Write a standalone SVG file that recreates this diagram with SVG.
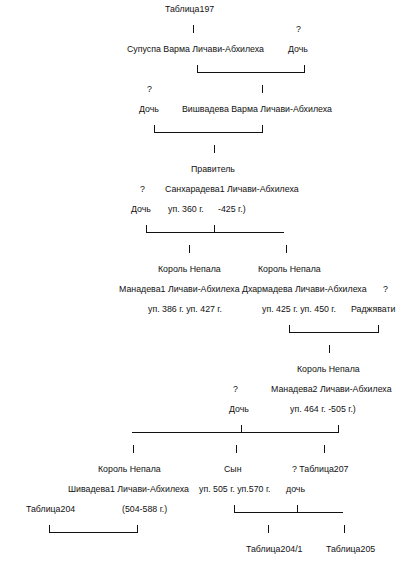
<svg xmlns="http://www.w3.org/2000/svg" width="407" height="581" viewBox="0 0 407 581">
<style>
text{font-family:"Liberation Sans",Arial,sans-serif;font-size:8.8px;fill:#111}
.c line{stroke:#111;stroke-width:1}
</style>
<rect width="407" height="581" fill="#fff"/>
<g class="c" id="connectors">
<line x1="193.5" y1="25" x2="193.5" y2="33"/>
<line x1="197.5" y1="65" x2="197.5" y2="73"/><line x1="197" y1="72.5" x2="304" y2="72.5"/><line x1="304.5" y1="65" x2="304.5" y2="73"/>
<line x1="262.5" y1="85" x2="262.5" y2="93"/>
<line x1="154.5" y1="125" x2="154.5" y2="133"/><line x1="154" y1="132.5" x2="262" y2="132.5"/><line x1="262.5" y1="125" x2="262.5" y2="133"/>
<line x1="214.5" y1="145" x2="214.5" y2="153"/>
<line x1="146.5" y1="225" x2="146.5" y2="233"/><line x1="146" y1="232.5" x2="284" y2="232.5"/><line x1="214.5" y1="225" x2="214.5" y2="233"/>
<line x1="189.5" y1="245" x2="189.5" y2="253"/><line x1="286.5" y1="245" x2="286.5" y2="253"/>
<line x1="289.5" y1="325" x2="289.5" y2="333"/><line x1="289" y1="332.5" x2="378" y2="332.5"/><line x1="378.5" y1="325" x2="378.5" y2="333"/>
<line x1="329.5" y1="345" x2="329.5" y2="353"/>
<line x1="132" y1="432.5" x2="338" y2="432.5"/><line x1="241.5" y1="425" x2="241.5" y2="433"/><line x1="338.5" y1="425" x2="338.5" y2="433"/>
<line x1="133.5" y1="445" x2="133.5" y2="453"/><line x1="236.5" y1="445" x2="236.5" y2="453"/><line x1="324.5" y1="445" x2="324.5" y2="453"/>
<line x1="234.5" y1="505" x2="234.5" y2="513"/><line x1="234" y1="512.5" x2="343" y2="512.5"/><line x1="297.5" y1="505" x2="297.5" y2="513"/>
<line x1="49.5" y1="525" x2="49.5" y2="533"/><line x1="49" y1="532.5" x2="137" y2="532.5"/><line x1="137.5" y1="525" x2="137.5" y2="533"/>
<line x1="268.5" y1="525" x2="268.5" y2="533"/><line x1="344.5" y1="525" x2="344.5" y2="533"/>
</g>
<g id="t197"><text x="165" y="12">Таблица197</text></g>
<g id="supuspa"><text x="127" y="52">Супуспа Варма Личави-Абхилеха</text></g>
<g id="doch1"><text x="296" y="32">?</text><text x="288" y="52">Дочь</text></g>
<g id="doch2"><text x="147" y="92">?</text><text x="139" y="112">Дочь</text></g>
<g id="vishvadeva"><text x="182" y="112">Вишвадева Варма Личави-Абхилеха</text></g>
<g id="sanharadeva"><text x="191" y="172">Правитель</text><text x="165" y="192">Санхарадева1 Личави-Абхилеха</text><text x="168" y="212">уп. 360 г.</text><text x="218" y="212">-425 г.)</text></g>
<g id="doch3"><text x="140" y="192">?</text><text x="131" y="212">Дочь</text></g>
<g id="manadeva1"><text x="158" y="272">Король Непала</text><text x="148" y="312">уп. 386 г. уп. 427 г.</text></g>
<g id="dharmadeva"><text x="258" y="272">Король Непала</text><text x="119" y="292">Манадева1 Личави-Абхилеха Дхармадева Личави-Абхилеха</text><text x="262" y="312">уп. 425 г. уп. 450 г.</text></g>
<g id="radzhyavati"><text x="383" y="292">?</text><text x="351" y="312">Раджявати</text></g>
<g id="manadeva2"><text x="297" y="372">Король Непала</text><text x="271" y="392">Манадева2 Личави-Абхилеха</text><text x="290" y="412">уп. 464 г. -505 г.)</text></g>
<g id="doch4"><text x="233" y="392">?</text><text x="229" y="412">Дочь</text></g>
<g id="shivadeva"><text x="98" y="472">Король Непала</text><text x="68" y="492">Шивадева1 Личави-Абхилеха</text><text x="122" y="512">(504-588 г.)</text></g>
<g id="syn"><text x="224" y="472">Сын</text><text x="199" y="492">уп. 505 г. уп.570 г.</text></g>
<g id="doch5"><text x="292" y="472">? Таблица207</text><text x="286" y="492">дочь</text></g>
<g id="t204"><text x="26" y="512">Таблица204</text></g>
<g id="t2041"><text x="246" y="552">Таблица204/1</text></g>
<g id="t205"><text x="326" y="552">Таблица205</text></g>
</svg>
